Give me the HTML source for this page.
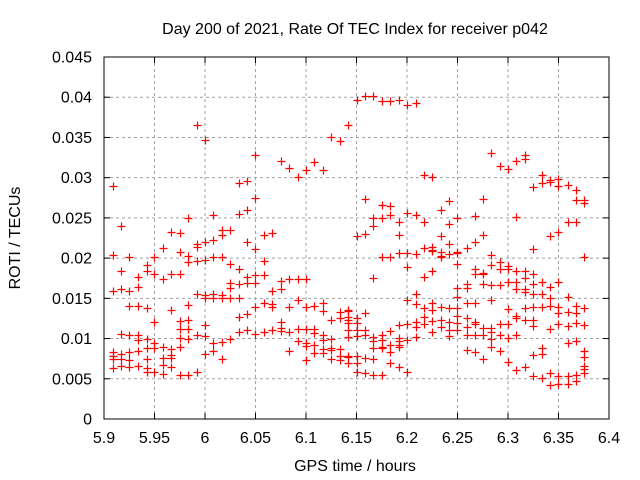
<!DOCTYPE html>
<html><head><meta charset="utf-8"><style>
body{margin:0;background:#fff}
svg{display:block;font-family:"Liberation Sans",sans-serif}
</style></head><body>
<svg id="chart" width="640" height="480" viewBox="0 0 640 480">
<rect width="640" height="480" fill="#fff"/>
<text x="355" y="34" font-size="16" text-anchor="middle">Day 200 of 2021, Rate Of TEC Index for receiver p042</text>
<g id="grid"></g>
<g id="ticks"></g>
<g id="points"></g>
<rect x="104" y="57" width="505" height="362" fill="none" stroke="#000" stroke-width="1"/>
<text x="355" y="471" font-size="16" text-anchor="middle">GPS time / hours</text>
<text transform="translate(20,238) rotate(-90)" font-size="16" text-anchor="middle">ROTI / TECUs</text>
</svg>
<script>
const xTicks=[5.9,5.95,6,6.05,6.1,6.15,6.2,6.25,6.3,6.35,6.4];
const xTickLabels=["5.9","5.95","6","6.05","6.1","6.15","6.2","6.25","6.3","6.35","6.4"];
const yTicks=[0,0.005,0.01,0.015,0.02,0.025,0.03,0.035,0.04,0.045];
const yTickLabels=["0","0.005","0.01","0.015","0.02","0.025","0.03","0.035","0.04","0.045"];
const times=[5.909,5.917,5.925,5.934,5.943,5.950,5.958,5.966,5.975,5.983,5.992,6.000,6.008,6.017,6.025,6.034,6.042,6.050,6.058,6.066,6.075,6.083,6.092,6.100,6.108,6.117,6.125,6.134,6.142,6.150,6.158,6.166,6.175,6.183,6.192,6.200,6.209,6.217,6.225,6.234,6.242,6.250,6.259,6.267,6.275,6.283,6.292,6.300,6.308,6.317,6.325,6.334,6.342,6.350,6.359,6.367,6.375];
const rotiValues=[
[0.0290,0.0204,0.0159,0.0083,0.0078,0.0075,0.0063],
[0.0240,0.0184,0.0162,0.0106,0.0081,0.0075,0.0066],
[0.0201,0.0159,0.0140,0.0104,0.0083,0.0073,0.0065],
[0.0177,0.0164,0.0140,0.0104,0.0098,0.0085,0.0066],
[0.0191,0.0184,0.0138,0.0099,0.0088,0.0075,0.0063,0.0058],
[0.0201,0.0180,0.0121,0.0094,0.0088,0.0058],
[0.0213,0.0174,0.0089,0.0076,0.0067,0.0056],
[0.0232,0.0180,0.0135,0.0087,0.0080,0.0076,0.0065],
[0.0231,0.0208,0.0180,0.0122,0.0112,0.0101,0.0089,0.0055],
[0.0250,0.0203,0.0195,0.0142,0.0123,0.0112,0.0099,0.0055],
[0.0365,0.0218,0.0214,0.0196,0.0155,0.0104,0.0058],
[0.0347,0.0220,0.0198,0.0154,0.0150,0.0117,0.0103,0.0081],
[0.0254,0.0222,0.0201,0.0155,0.0150,0.0094,0.0085],
[0.0235,0.0229,0.0201,0.0154,0.0150,0.0096,0.0075],
[0.0235,0.0193,0.0169,0.0163,0.0150,0.0099],
[0.0293,0.0255,0.0186,0.0168,0.0150,0.0127,0.0108],
[0.0296,0.0260,0.0220,0.0177,0.0169,0.0131,0.0111],
[0.0328,0.0275,0.0211,0.0179,0.0169,0.0139,0.0106],
[0.0229,0.0196,0.0179,0.0144,0.0108],
[0.0231,0.0159,0.0143,0.0139,0.0111],
[0.0321,0.0172,0.0162,0.0121,0.0113,0.0109],
[0.0312,0.0174,0.0139,0.0108,0.0085],
[0.0301,0.0174,0.0148,0.0112,0.0097],
[0.0310,0.0174,0.0139,0.0112,0.0094,0.0091,0.0073],
[0.0319,0.0140,0.0112,0.0107,0.0092,0.0082],
[0.0310,0.0144,0.0134,0.0104,0.0098,0.0087,0.0082],
[0.0351,0.0123,0.0099,0.0088,0.0086,0.0075],
[0.0346,0.0133,0.0126,0.0087,0.0078,0.0073],
[0.0365,0.0135,0.0134,0.0127,0.0123,0.0119,0.0111,0.0102,0.0078,0.0077,0.0070],
[0.0397,0.0227,0.0126,0.0119,0.0111,0.0103,0.0078,0.0070,0.0058],
[0.0402,0.0273,0.0230,0.0132,0.0111,0.0104,0.0076,0.0057],
[0.0402,0.0250,0.0240,0.0175,0.0102,0.0097,0.0088,0.0075,0.0055],
[0.0395,0.0266,0.0250,0.0201,0.0104,0.0098,0.0089,0.0088,0.0055],
[0.0395,0.0265,0.0254,0.0201,0.0109,0.0092,0.0083,0.0070],
[0.0397,0.0245,0.0229,0.0206,0.0117,0.0101,0.0097,0.0092,0.0089,0.0065],
[0.0390,0.0256,0.0206,0.0189,0.0148,0.0118,0.0098,0.0058],
[0.0393,0.0254,0.0205,0.0155,0.0143,0.0121,0.0114,0.0102],
[0.0303,0.0245,0.0213,0.0177,0.0138,0.0127,0.0118],
[0.0301,0.0214,0.0210,0.0209,0.0184,0.0144,0.0135,0.0122,0.0108],
[0.0260,0.0227,0.0208,0.0203,0.0201,0.0139,0.0123,0.0114],
[0.0271,0.0242,0.0218,0.0205,0.0138,0.0121,0.0111,0.0103],
[0.0250,0.0208,0.0206,0.0193,0.0163,0.0152,0.0138,0.0128,0.0119,0.0111],
[0.0213,0.0168,0.0163,0.0144,0.0126,0.0114,0.0104,0.0086],
[0.0252,0.0220,0.0186,0.0180,0.0144,0.0121,0.0118,0.0104,0.0083],
[0.0273,0.0229,0.0181,0.0180,0.0168,0.0113,0.0104,0.0075],
[0.0331,0.0204,0.0191,0.0167,0.0148,0.0113,0.0108,0.0099,0.0089],
[0.0314,0.0195,0.0186,0.0167,0.0118,0.0104,0.0085],
[0.0311,0.0190,0.0186,0.0170,0.0137,0.0118,0.0101,0.0071],
[0.0321,0.0251,0.0184,0.0170,0.0162,0.0128,0.0126,0.0104,0.0061],
[0.0328,0.0323,0.0184,0.0175,0.0162,0.0158,0.0138,0.0123,0.0065],
[0.0288,0.0211,0.0180,0.0168,0.0155,0.0139,0.0123,0.0116,0.0080,0.0053],
[0.0303,0.0293,0.0170,0.0155,0.0139,0.0088,0.0081,0.0051],
[0.0297,0.0295,0.0227,0.0164,0.0150,0.0140,0.0112,0.0057,0.0042],
[0.0298,0.0290,0.0232,0.0170,0.0139,0.0132,0.0118,0.0053,0.0044],
[0.0291,0.0245,0.0152,0.0133,0.0116,0.0094,0.0053,0.0044],
[0.0285,0.0272,0.0245,0.0140,0.0132,0.0119,0.0097,0.0055,0.0047],
[0.0272,0.0268,0.0201,0.0138,0.0117,0.0085,0.0077,0.0066,0.0062,0.0057]
];
const NS="http://www.w3.org/2000/svg";
const X0=104,X1=609,Y0=419,Y1=57;
function sx(v){return X0+(v-5.9)/(6.4-5.9)*(X1-X0);}
function sy(v){return Y0-v/0.045*(Y0-Y1);}
function mk(tag,attrs,parent){const e=document.createElementNS(NS,tag);for(const k in attrs)e.setAttribute(k,attrs[k]);parent.appendChild(e);return e;}
const grid=document.getElementById('grid'),ticks=document.getElementById('ticks'),pts=document.getElementById('points');
xTicks.forEach((t,i)=>{
  const x=sx(t);
  if(i>0&&i<xTicks.length-1){const g=mk('line',{x1:x,x2:x,y1:Y1,y2:Y0,stroke:'#a0a0a0','stroke-dasharray':'3,3'},grid);
  
  }
  mk('line',{x1:x,x2:x,y1:Y0,y2:Y0-6,stroke:'#000'},ticks);
  mk('line',{x1:x,x2:x,y1:Y1,y2:Y1+6,stroke:'#000'},ticks);
  const l=mk('text',{x:x,y:443,'font-size':16,'text-anchor':'middle'},ticks);
  l.textContent=xTickLabels[i];
  
  
});
yTicks.forEach((t,i)=>{
  const y=sy(t);
  if(i>0&&i<yTicks.length-1){const g=mk('line',{x1:X0,x2:X1,y1:y,y2:y,stroke:'#a0a0a0','stroke-dasharray':'3,3'},grid);
  
  }
  mk('line',{x1:X0,x2:X0+6,y1:y,y2:y,stroke:'#000'},ticks);
  mk('line',{x1:X1,x2:X1-6,y1:y,y2:y,stroke:'#000'},ticks);
  const l=mk('text',{x:92,y:y+5.5,'font-size':16,'text-anchor':'end'},ticks);
  l.textContent=yTickLabels[i];
  
  
});
times.forEach((t,i)=>{
  rotiValues[i].forEach(v=>{
    const x=Math.round(sx(t))+0.5,y=Math.round(sy(v))+0.5;
    const p=mk('path',{d:`M${x-4} ${y}H${x+4}M${x} ${y-4}V${y+4}`,stroke:'#ff0000','stroke-width':1.2,fill:'none'},pts);
    
    
  });
});
</script>
</body></html>
